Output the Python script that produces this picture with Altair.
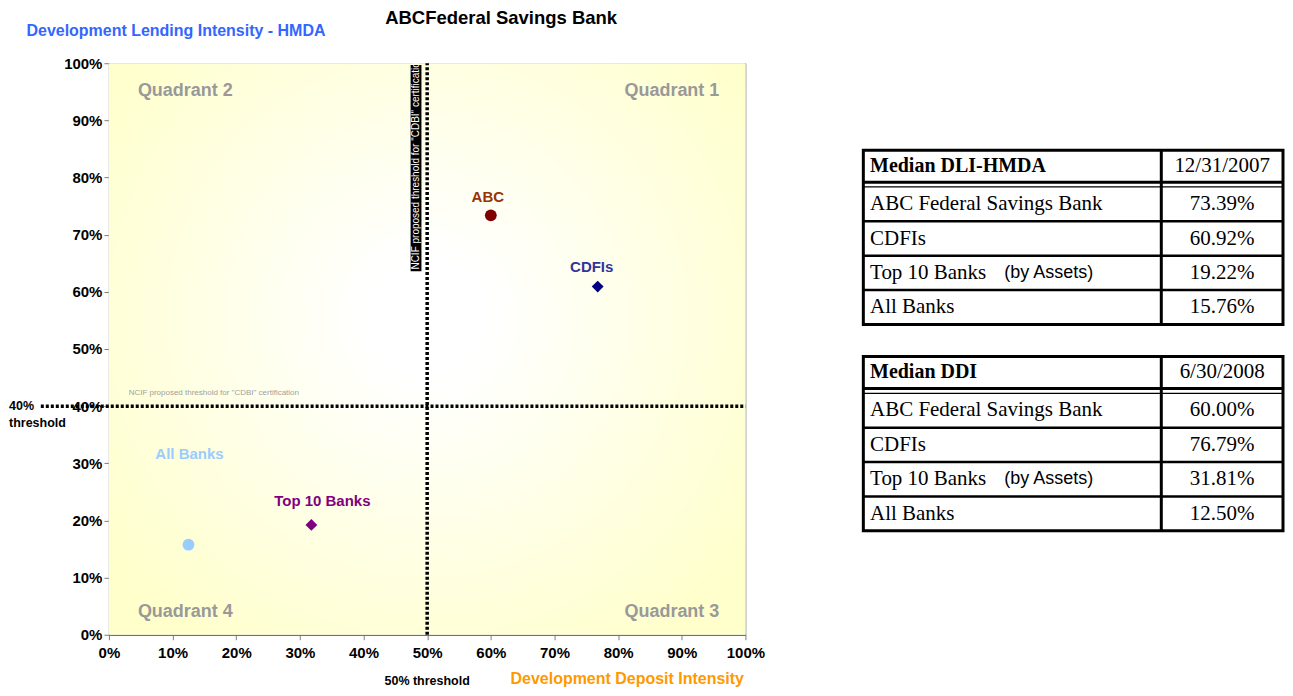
import altair as alt
import pandas as pd

SANS = "Liberation Sans, Arial, Helvetica, sans-serif"
SERIF = "Liberation Serif, Times New Roman, serif"

# ---------------- data ----------------
names = ["ABC", "CDFIs", "Top 10 Banks", "All Banks"]
ddi_pct = [60.00, 76.79, 31.81, 12.50]      # Development Deposit Intensity (x)
dli_pct = [73.39, 60.92, 19.22, 15.76]      # Development Lending Intensity - HMDA (y)
marker_colors = ["#800000", "#000080", "#800080", "#99CCFF"]
label_colors = ["#993300", "#333399", "#800080", "#99CCFF"]
marker_shapes = ["circle", "diamond", "diamond", "circle"]

table_row_labels = ["ABC Federal Savings Bank", "CDFIs", "Top 10 Banks", "All Banks"]
table_headers = ["Median DLI-HMDA", "Median DDI"]
table_dates = ["12/31/2007", "6/30/2008"]
table_values = [dli_pct, ddi_pct]

tick_values = [0, 10, 20, 30, 40, 50, 60, 70, 80, 90, 100]
x_threshold = 50
y_threshold = 40
quadrants = ["Quadrant 1", "Quadrant 2", "Quadrant 3", "Quadrant 4"]
cert_note = 'NCIF proposed threshold for "CDBI" certification'

PW, PH = 637, 572

# ---------------- scales / axes ----------------
xs = alt.Scale(domain=[0, 100], nice=False, zero=False)
ys = alt.Scale(domain=[0, 100], nice=False, zero=False)

x_axis = alt.Axis(
    values=tick_values, labelExpr="datum.value + '%'", grid=False,
    labelFont=SANS, labelFontSize=15, labelFontWeight="bold", labelColor="black",
    labelPadding=6, labelFlush=False, labelOverlap=False,
    tickSize=5, tickColor="#808080", domainColor="#606060",
    title="Development Deposit Intensity", titleFont=SANS, titleFontSize=16,
    titleFontWeight="bold", titleColor="#FF9900", titleAlign="right",
    titleBaseline="middle", titleX=635, titleY=44, titleAngle=0,
)
y_axis = alt.Axis(
    values=tick_values, labelExpr="datum.value + '%'", grid=False,
    labelFont=SANS, labelFontSize=15, labelFontWeight="bold", labelColor="black",
    labelPadding=2, labelFlush=False, labelOverlap=False,
    tickSize=5, tickColor="#808080", domainColor="#606060",
    title="Development Lending Intensity - HMDA", titleFont=SANS, titleFontSize=16,
    titleFontWeight="bold", titleColor="#3366FF", titleAlign="left",
    titleBaseline="middle", titleX=-83, titleY=-33, titleAngle=0,
)


def XD(v):
    return alt.XDatum(v, type="quantitative", scale=xs, axis=x_axis)


def YD(v):
    return alt.YDatum(v, type="quantitative", scale=ys, axis=y_axis)


one = pd.DataFrame({"k": [0]})

# background with radial gradient
grad = alt.RadialGradient(
    gradient="radial",
    stops=[alt.GradientStop(color="#FFFFFF", offset=0),
           alt.GradientStop(color="#FFFFFF", offset=0.15),
           alt.GradientStop(color="#FFFFCC", offset=1)],
    x1=0.5, y1=0.45, x2=0.5, y2=0.45, r1=0, r2=0.62,
)
bg = alt.Chart(one).mark_rect(fill=grad).encode(
    x=XD(0), x2=alt.X2Datum(100), y=YD(0), y2=alt.Y2Datum(100))

# black label box on the vertical threshold
box = alt.Chart(one).mark_rect(color="black", clip=True).encode(
    x=XD(47.4), x2=alt.X2Datum(49.1), y=YD(63.6), y2=alt.Y2Datum(99.7))
box_text = alt.Chart(one).mark_text(
    text=cert_note, angle=270, align="left", baseline="middle",
    font=SANS, fontSize=10, color="white", clip=True
).encode(x=XD(48.25), y=YD(63.9))

# threshold lines
vline = alt.Chart(one).mark_rule(color="black", strokeWidth=3.5, strokeDash=[3, 2]).encode(
    x=XD(x_threshold), y=YD(0), y2=alt.Y2Datum(100))
hline = alt.Chart(one).mark_rule(color="black", strokeWidth=3.5, strokeDash=[3, 2], clip=False).encode(
    x=XD(-10.7), x2=alt.X2Datum(100), y=YD(y_threshold))

small_note = alt.Chart(one).mark_text(
    text=cert_note, align="left", baseline="middle", font=SANS, fontSize=8, color="#A0A0A0"
).encode(x=XD(3.1), y=YD(42.3))

# quadrant labels
qpos = {"Quadrant 1": (95.9, 95.1, "right"), "Quadrant 2": (4.55, 95.1, "left"),
        "Quadrant 3": (95.9, 4.0, "right"), "Quadrant 4": (4.55, 4.0, "left")}
qlayers = []
for q in quadrants:
    qx, qy, qa = qpos[q]
    qlayers.append(alt.Chart(one).mark_text(
        text=q, align=qa, baseline="middle", font=SANS, fontSize=18,
        fontWeight="bold", color="#999999").encode(x=XD(qx), y=YD(qy)))

# threshold annotations outside plot
t40 = alt.Chart(one).mark_text(
    text="40%", align="left", baseline="middle", font=SANS, fontSize=12.5,
    fontWeight="bold", color="black", clip=False).encode(x=XD(-15.7), y=YD(y_threshold))
t40b = alt.Chart(one).mark_text(
    text="threshold", align="left", baseline="middle", font=SANS, fontSize=12.5,
    fontWeight="bold", color="black", dy=17, clip=False).encode(x=XD(-15.7), y=YD(y_threshold))
t50 = alt.Chart(one).mark_text(
    text="50% threshold", align="center", baseline="middle", font=SANS, fontSize=12.5,
    fontWeight="bold", color="black", dy=46, clip=False).encode(x=XD(x_threshold), y=YD(0))

# points
pts_df = pd.DataFrame({"name": names, "ddi": ddi_pct, "dli": dli_pct})
X = alt.X("ddi:Q", scale=xs, axis=x_axis)
Y = alt.Y("dli:Q", scale=ys, axis=y_axis)
points = alt.Chart(pts_df).mark_point(filled=True, size=140, opacity=1).encode(
    x=X, y=Y,
    color=alt.Color("name:N", scale=alt.Scale(domain=names, range=marker_colors), legend=None),
    shape=alt.Shape("name:N", scale=alt.Scale(domain=names, range=marker_shapes), legend=None),
)

label_offsets = {"ABC": (-3, -18), "CDFIs": (-6, -20), "Top 10 Banks": (11, -24), "All Banks": (1, -91)}
lab_layers = []
for n, c in zip(names, label_colors):
    dx, dy = label_offsets[n]
    lab_layers.append(alt.Chart(pts_df).transform_filter(alt.datum.name == n).mark_text(
        font=SANS, fontSize=15, fontWeight="bold", color=c, dx=dx, dy=dy, baseline="middle"
    ).encode(x=X, y=Y, text="name:N"))

scatter = alt.layer(bg, box, box_text, vline, hline, small_note, *qlayers, t40, t40b, t50,
                    points, *lab_layers).properties(
    width=PW, height=PH,
    view=alt.ViewBackground(stroke="#999999", strokeWidth=1),
    title=alt.Title("ABCFederal Savings Bank", font=SANS, fontSize=18.5, fontWeight="bold",
                    color="black", anchor="middle", dx=74, dy=9.5),
)

# ---------------- tables ----------------
TW = 420
HEAD_H = 0.93
GAP_LINE = 1.07
TABLE_H = GAP_LINE + 4
TABLE_STEP = 6.0
TOTAL = TABLE_STEP + TABLE_H
TOP_PX, BOTTOM_PX = 87, 468
k = TOP_PX * TOTAL / (BOTTOM_PX - TOP_PX)
COL = 0.71

texts, lines, boxes = [], [], []
for t in range(2):
    b = t * TABLE_STEP
    texts.append(dict(x=0.016, y=b + HEAD_H / 2, t=table_headers[t], kind="head_bold"))
    texts.append(dict(x=(COL + 1) / 2, y=b + HEAD_H / 2, t=table_dates[t], kind="head_date"))
    for i, lab in enumerate(table_row_labels):
        yc = b + GAP_LINE + i + 0.5
        texts.append(dict(x=0.016, y=yc, t=lab, kind="label"))
        texts.append(dict(x=(COL + 1) / 2, y=yc, t=f"{table_values[t][i]:.2f}%", kind="value"))
        if lab.startswith("Top 10"):
            texts.append(dict(x=0.336, y=yc, t="(by Assets)", kind="note"))
    boxes.append(dict(x=0, x2=1, y=b, y2=b + TABLE_H))
    lines.append(dict(x=0, x2=1, y=b + HEAD_H, y2=b + HEAD_H, w=3))
    lines.append(dict(x=0, x2=1, y=b + GAP_LINE, y2=b + GAP_LINE, w=1.2))
    for i in range(1, 4):
        yy = b + GAP_LINE + i
        lines.append(dict(x=0, x2=1, y=yy, y2=yy, w=2.5))
    lines.append(dict(x=COL, x2=COL, y=b, y2=b + TABLE_H, w=3))

tdf = pd.DataFrame(texts)
ldf = pd.DataFrame(lines)
bdf = pd.DataFrame(boxes)

txs = alt.Scale(domain=[0, 1], nice=False, zero=False)
tys = alt.Scale(domain=[-k, TOTAL], nice=False, zero=False, reverse=True)
TX = alt.X("x:Q", scale=txs, axis=None)
TY = alt.Y("y:Q", scale=tys, axis=None)

tb_boxes = alt.Chart(bdf).mark_rect(fillOpacity=0, stroke="black", strokeWidth=3).encode(
    x=TX, x2="x2:Q", y=TY, y2="y2:Q")
tb_lines = alt.Chart(ldf).mark_rule(color="black").encode(
    x=TX, x2="x2:Q", y=TY, y2="y2:Q", strokeWidth=alt.StrokeWidth("w:Q", scale=None))


def ttext(kind, **kw):
    return alt.Chart(tdf).transform_filter(alt.datum.kind == kind).mark_text(
        baseline="middle", color="black", **kw).encode(x=TX, y=TY, text="t:N")


tb = alt.layer(
    tb_boxes, tb_lines,
    ttext("head_bold", align="left", font=SERIF, fontSize=20, fontWeight="bold"),
    ttext("head_date", align="center", font=SERIF, fontSize=21),
    ttext("label", align="left", font=SERIF, fontSize=21),
    ttext("value", align="center", font=SERIF, fontSize=21),
    ttext("note", align="left", font=SANS, fontSize=18),
).properties(width=TW, height=BOTTOM_PX,
             view=alt.ViewBackground(stroke="transparent"))

chart = alt.hconcat(scatter, tb, spacing=96).properties(
    padding=0, background="white")

chart.save("out.html", embed_options={"renderer": "svg", "actions": False})
